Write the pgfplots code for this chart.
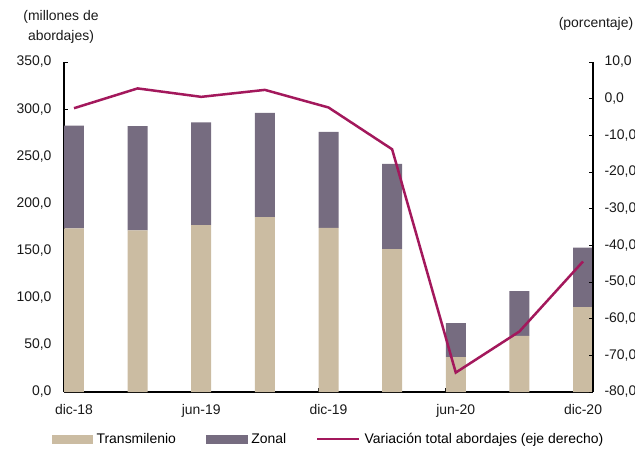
\documentclass[border=0pt]{standalone}
\usepackage{fontspec}
\setmainfont{Liberation Sans}
\usepackage{pgfplots}
\usepackage{pgfplotstable}
\pgfplotsset{compat=1.18}

\definecolor{trans}{RGB}{203,188,162}
\definecolor{zonal}{RGB}{118,108,128}
\definecolor{varline}{RGB}{163,24,92}

% millones de abordajes por trimestre y variacion anual (%)
\pgfplotstableread{
x trans zonal var
0 173.5 109.0 -2.6
1 171.5 110.5 2.8
2 177.0 109.0 0.5
3 185.5 110.5 2.4
4 174.0 102.0 -2.4
5 151.5 90.5 -13.8
6 37.0 36.0 -74.7
7 59.5 47.5 -63.5
8 90.0 63.0 -44.4
}\datatable

\pgfplotsset{
  base/.style={
    scale only axis, width=529bp, height=330bp,
    at={(64bp,-392bp)}, anchor=south west,
    xmin=-0.157, xmax=8.157,
    tick label style={font=\fontsize{14}{16}\selectfont, text=black!90},
    tick align=inside, major tick length=4bp,
    tick style={black, line width=0.8bp},
    axis line style={black, line width=1.1bp},
    /pgf/number format/fixed,
    /pgf/number format/fixed zerofill,
    /pgf/number format/precision=1,
    /pgf/number format/use comma,
    /pgf/number format/1000 sep={},
    /pgf/number format/assume math mode=true,
  },
}

\begin{document}
\begin{tikzpicture}
\begin{axis}[base,
    ybar stacked, bar width=20bp,
    ymin=0, ymax=350, ytick={0,50,...,350},
    axis x line*=bottom, axis y line*=left,
    xtick={-0.157,1.843,3.843,5.843,7.843},
    xticklabels={dic-18,jun-19,dic-19,jun-20,dic-20},
    xticklabel style={xshift=10bp, yshift=-9bp},
    yticklabel style={xshift=-9bp},
  ]
  \addplot[fill=trans, draw=none] table[x=x, y=trans]{\datatable};
  \addplot[fill=zonal, draw=none] table[x=x, y=zonal]{\datatable};
\end{axis}
\begin{axis}[base,
    ymin=-80, ymax=10, ytick={-80,-70,...,10},
    axis y line*=right, hide x axis,
    yticklabel style={xshift=8bp},
    legend columns=3,
    legend style={at={(0,0)}, anchor=north west, xshift=-12bp, yshift=-39bp,
      draw=none, fill=none, inner sep=0pt,
      font=\fontsize{14}{16}\selectfont,
      /tikz/every even column/.append style={column sep=28bp}},
  ]
  \addlegendimage{legend image code/.code={\fill[trans] (0bp,-4bp) rectangle (40bp,4bp); \path (42bp,0bp);}}
  \addlegendentry{Transmilenio}
  \addlegendimage{legend image code/.code={\fill[zonal] (0bp,-4bp) rectangle (41bp,4bp); \path (43bp,0bp);}}
  \addlegendentry{Zonal}
  \addplot[varline, line width=2.5bp,
    legend image code/.code={\draw[varline, line width=2.5bp] (0bp,0bp) -- (42bp,0bp); \path (44bp,0bp);}]
    table[x=x, y=var]{\datatable};
  \addlegendentry{Variación total abordajes (eje derecho)}
\end{axis}
\node[align=center, font=\fontsize{14}{20}\selectfont, text=black!90] at (61bp,-27bp) {(millones de\\abordajes)};
\node[font=\fontsize{14}{16}\selectfont, text=black!90] at (596bp,-24bp) {(porcentaje)};
\pgfresetboundingbox
\useasboundingbox (0,0) rectangle (635bp,-449bp);
\end{tikzpicture}
\end{document}
